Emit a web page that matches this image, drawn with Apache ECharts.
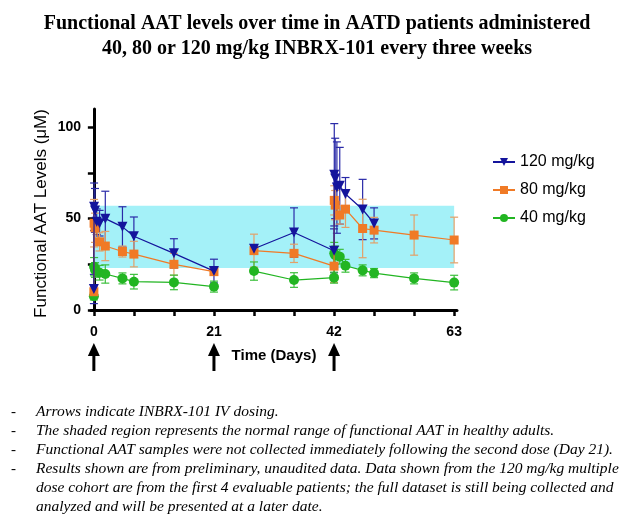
<!DOCTYPE html>
<html><head><meta charset="utf-8">
<script src="https://cdn.jsdelivr.net/npm/echarts@6/dist/echarts.min.js"></script>
<style>html,body{margin:0;padding:0;background:#fff}#c{width:634px;height:514px}</style>
</head><body><div id="c"></div>
<script>
const titleLines = ['Functional AAT levels over time in AATD patients administered', '40, 80 or 120 mg/kg INBRX-101 every three weeks'];
const seriesNames = ['120 mg/kg', '80 mg/kg', '40 mg/kg'];

const days120 = [0, 0.04, 0.2, 0.5, 1, 2, 5, 7, 14, 21, 28, 35, 42, 42.04, 42.2, 42.5, 43, 44, 47, 49];
const vals120 = [11.5, 56.5, 54.5, 48.3, 47.5, 50, 45.5, 40.4, 31, 21.3, 33.5, 42.4, 32.4, 74, 72, 67, 68, 63.5, 55, 47.4];
const errs120 = [8, 13, 12, 7, 7, 15, 11, 10.5, 8, 6.5, 2, 13.5, 12, 28, 22, 25, 21, 9, 16.5, 8.5];

const days80 = [0, 0.04, 0.2, 1, 2, 5, 7, 14, 21, 28, 35, 42, 42.04, 42.2, 43, 44, 47, 49, 56, 63];
const vals80 = [10, 47.5, 45, 37.3, 35, 32, 30.6, 25, 21, 32.5, 31, 24, 60, 57.4, 52, 55.2, 44.6, 43.7, 41, 38.3];
const errs80 = [3, 13, 8, 5, 8, 3, 7, 6, 2, 9, 5, 9, 8, 8, 5, 10, 16, 7, 11, 12.5];

const days40 = [0, 0.04, 0.2, 1, 2, 5, 7, 14, 21, 28, 35, 42, 42.04, 42.2, 43, 44, 47, 49, 56, 63];
const vals40 = [7.5, 23.7, 21.9, 20.4, 19.7, 17.3, 15.5, 15.1, 12.8, 21.3, 16.4, 17.7, 31, 30, 29.2, 24.2, 21.7, 20.2, 17.3, 15];
const errs40 = [2, 5, 4, 4, 5, 3, 4, 4, 3, 5, 4, 3, 6, 5, 4, 3.5, 3, 2.5, 3, 4];

const gapAfterDay = 21;          // no samples right after the second dose
const doseDays = [0, 21, 42];
const normalRange = [23, 57];
const xTickValues = [0, 7, 14, 21, 28, 35, 42, 49, 56, 63];
const xLabelValues = [0, 21, 42, 63];
const yTickValues = [0, 25, 50, 75, 100];
const yLabelValues = [0, 50, 100];
const footnotes = [
  'Arrows indicate INBRX-101 IV dosing.',
  'The shaded region represents the normal range of functional AAT in healthy adults.',
  'Functional AAT samples were not collected immediately following the second dose (Day 21).',
  'Results shown are from preliminary, unaudited data. Data shown from the 120 mg/kg multiple',
  'dose cohort are from the first 4 evaluable patients; the full dataset is still being collected and',
  'analyzed and will be presented at a later date.'
];
const footnoteDash = [true, true, true, true, false, false];

const colors = ['#14149c', '#f07a26', '#22b522'];
const errColors = ['#2a2aa8', '#e3a068', '#3cbf3c'];
const symbols = ['triangle', 'rect', 'circle'];
const symbolRot = [180, 0, 0];
const symbolSizes = [10, 9, 10];

function lineData(days, vals) {
  const out = [];
  for (let i = 0; i < days.length; i++) {
    out.push([days[i], vals[i]]);
    if (days[i] === gapAfterDay && i + 1 < days.length) out.push([days[i] + 0.5, '-']);
  }
  return out;
}
function errData(days, vals, errs) {
  return days.map((d, i) => [d, vals[i] - errs[i], vals[i] + errs[i]]);
}

const sets = [[days120, vals120, errs120], [days80, vals80, errs80], [days40, vals40, errs40]];

const series = [];
series.push({
  type: 'line', name: 'range', data: [], silent: true, z: 0,
  markArea: {
    silent: true,
    itemStyle: { color: '#a4f1f8', opacity: 1 },
    data: [[{ xAxis: 0, yAxis: normalRange[0] }, { xAxis: 63, yAxis: normalRange[1] }]]
  }
});
sets.forEach((s, k) => {
  series.push({
    type: 'custom', name: seriesNames[k] + ' err', z: 2 + k,
    data: errData(s[0], s[1], s[2]),
    renderItem: function (params, api) {
      const x = api.value(0);
      const lo = api.coord([x, api.value(1)]);
      const hi = api.coord([x, api.value(2)]);
      const st = { stroke: errColors[k], lineWidth: 1.2 };
      return {
        type: 'group', children: [
          { type: 'line', shape: { x1: lo[0], y1: lo[1], x2: hi[0], y2: hi[1] }, style: st },
          { type: 'line', shape: { x1: lo[0] - 4, y1: lo[1], x2: lo[0] + 4, y2: lo[1] }, style: st },
          { type: 'line', shape: { x1: hi[0] - 4, y1: hi[1], x2: hi[0] + 4, y2: hi[1] }, style: st }
        ]
      };
    },
    clip: false, silent: true
  });
});
sets.forEach((s, k) => {
  series.push({
    type: 'line', name: seriesNames[k], z: 10 - k,
    data: lineData(s[0], s[1]),
    connectNulls: false,
    symbol: symbols[k], symbolRotate: symbolRot[k], symbolSize: symbolSizes[k],
    showAllSymbol: true,
    lineStyle: { color: colors[k], width: 1.2 },
    itemStyle: { color: colors[k] },
    animation: false
  });
});
series.push({
  type: 'custom', name: 'dose', z: 20, clip: false, silent: true,
  data: doseDays.map(d => [d, 0]),
  renderItem: function (params, api) {
    const p = api.coord([api.value(0), 0]);
    return {
      type: 'group', children: [
        { type: 'polygon', shape: { points: [[p[0], p[1] + 33], [p[0] - 6, p[1] + 46], [p[0] + 6, p[1] + 46]] }, style: { fill: '#000' } },
        { type: 'rect', shape: { x: p[0] - 1.5, y: p[1] + 44, width: 3, height: 17 }, style: { fill: '#000' } }
      ]
    };
  }
});

const graphics = [];
footnotes.forEach((t, i) => {
  const y = 413 + i * 19;
  if (footnoteDash[i]) graphics.push({ type: 'text', left: 11, top: y - 8, style: { text: '-', font: '15px "Liberation Serif"', fill: '#000' } });
  graphics.push({ type: 'text', left: 36, top: y - 9, style: { text: t, font: 'italic 15.5px "Liberation Serif"', fill: '#000' } });
});

const chart = echarts.init(document.getElementById('c'), null, { renderer: 'canvas' });
chart.setOption({
  animation: false,
  backgroundColor: '#fff',
  title: {
    text: titleLines.join('\n'), left: 'center', top: 6,
    textStyle: { fontFamily: 'Liberation Serif', fontWeight: 'bold', fontSize: 20, lineHeight: 25, color: '#000' }
  },
  legend: {
    data: seriesNames, orient: 'vertical', left: 487, top: 149,
    itemWidth: 22, itemHeight: 10, itemGap: 12,
    textStyle: { fontFamily: 'Liberation Sans', fontSize: 16, color: '#000' }
  },
  grid: { left: 91, right: 177, top: 109, bottom: 204, containLabel: false },
  xAxis: {
    type: 'value', min: -0.5, max: 63.5,
    name: 'Time (Days)', nameLocation: 'middle', nameGap: 38,
    nameTextStyle: { fontFamily: 'Liberation Sans', fontWeight: 'bold', fontSize: 15, color: '#000' },
    axisLine: { lineStyle: { color: '#000', width: 3 } },
    axisTick: { show: true, length: 6, lineStyle: { color: '#000', width: 2.5 }, customValues: xTickValues },
    axisLabel: { customValues: xLabelValues, margin: 15, fontFamily: 'Liberation Sans', fontWeight: 'bold', fontSize: 14, color: '#000' },
    splitLine: { show: false }
  },
  yAxis: {
    type: 'value', min: 0, max: 110,
    name: 'Functional AAT Levels (μM)', nameLocation: 'middle', nameGap: 41, nameMoveOverlap: false,
    nameTextStyle: { fontFamily: 'Liberation Sans', fontSize: 17, color: '#000', padding: [0, 8, 0, 0] },
    axisLine: { show: true, lineStyle: { color: '#000', width: 3 } },
    axisTick: { show: true, length: 6, lineStyle: { color: '#000', width: 2.5 }, customValues: yTickValues },
    axisLabel: { customValues: yLabelValues, margin: 10, fontFamily: 'Liberation Sans', fontWeight: 'bold', fontSize: 14, color: '#000' },
    splitLine: { show: false }
  },
  series: series,
  graphic: graphics
});
</script>
</body></html>
